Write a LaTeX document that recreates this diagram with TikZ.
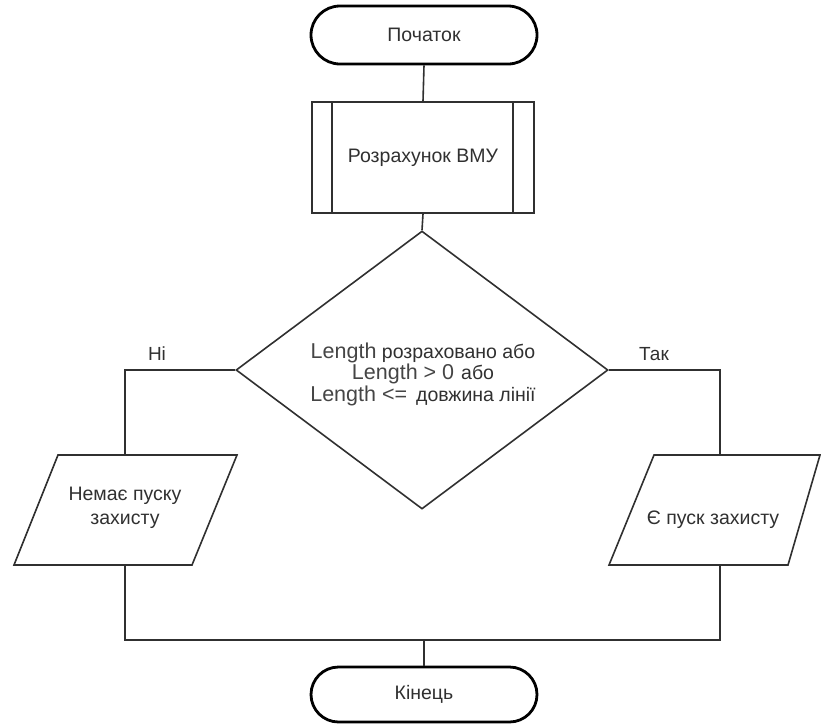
\documentclass[tikz,border=0pt]{standalone}
\usepackage{fontspec}
\setmainfont{Liberation Sans}
\usetikzlibrary{shapes.geometric,shapes.misc}
\definecolor{ink}{HTML}{303030}
\definecolor{lenc}{HTML}{454545}
\newcommand{\lenfont}{\fontsize{21.5}{21.5}\selectfont\color{lenc}}

\begin{document}
\begin{tikzpicture}[x=1pt,y=-1pt,
  every node/.style={font=\fontsize{19.5}{24.5}\selectfont, text=ink},
  terminal/.style={rounded rectangle, draw=black, line width=2.8pt,
    minimum width=226pt, minimum height=58pt, inner sep=0pt},
  subproc/.style={rectangle, draw=ink, line width=1.6pt,
    minimum width=222pt, minimum height=111pt, inner sep=0pt},
  decision/.style={diamond, draw=ink, line width=1.6pt,
    minimum width=372pt, minimum height=278pt, inner sep=0pt},
  block/.style={draw=ink, line width=1.6pt, line join=miter},
  link/.style={draw=ink, line width=1.6pt},
  branch/.style={font=\fontsize{19}{22}\selectfont}]

\useasboundingbox (0,0) rectangle (821,724);

% main column
\node[terminal] (start) at (424,35) {Початок};
\node[subproc] (calc) at (423,157.5) {Розрахунок ВМУ};
\draw[link] ([xshift=21pt]calc.north west) -- ([xshift=21pt]calc.south west);
\draw[link] ([xshift=-22pt]calc.north east) -- ([xshift=-22pt]calc.south east);
\node[decision] (dec) at (422,370) {};
\node[align=center, font=\fontsize{19.5}{21.5}\selectfont] (cond) at (423,374)
  {{\lenfont Length} розраховано або\\
   {\lenfont Length > 0}\hspace{7pt}або\\
   {\lenfont Length <=}\hspace{9pt}довжина лінії};

% output blocks
\coordinate (noT) at (125,455);
\coordinate (noB) at (125,565);
\draw[block] (58,455) -- (237,455) -- (192,565) -- (14,565) -- cycle;
\node[align=center] (noTxt) at (125,508) {Немає пуску\\захисту};

\coordinate (yesT) at (720,455);
\coordinate (yesB) at (720,565);
\draw[block] (654,455) -- (820,455) -- (788,565) -- (609,565) -- cycle;
\node (yesTxt) at (713,520) {Є пуск захисту};

\node[terminal, minimum height=55pt] (stop) at (424,694.5) {Кінець};
\coordinate (merge) at (424,640);

% connectors
\draw[link] (start.south) -- (calc.north);
\draw[link] (calc.south) -- (dec.north);
\draw[link] (dec.west) -| (noT);
\draw[link] (dec.east) -| (yesT);
\draw[link] (noB) |- (merge);
\draw[link] (yesB) |- (merge);
\draw[link] (merge) -- (stop.north);

% branch labels
\node[branch] (lblNo) at (157,354) {Ні};
\node[branch] (lblYes) at (654,354) {Так};
\end{tikzpicture}
\end{document}
